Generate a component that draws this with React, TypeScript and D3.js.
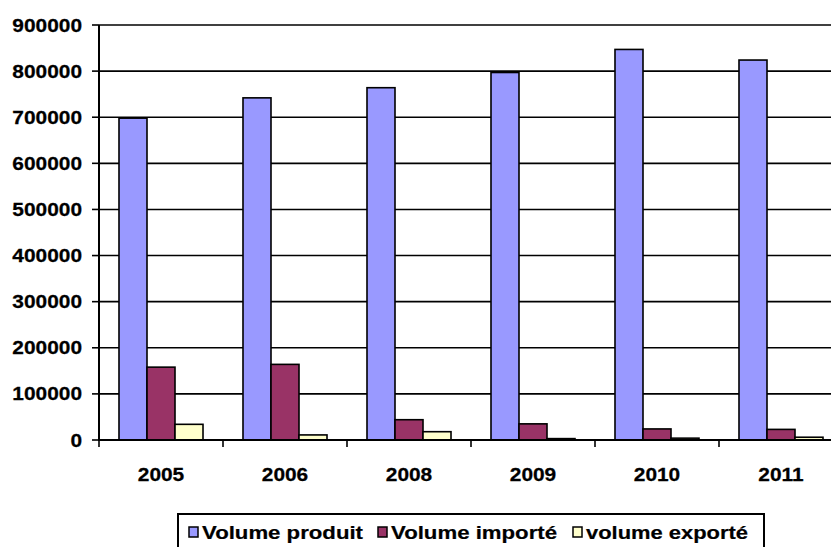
import React from 'react';
import * as d3 from 'd3';

const categories = ['2005', '2006', '2008', '2009', '2010', '2011'];
const seriesNames = ['Volume produit', 'Volume importé', 'volume exporté'];
const volumeProduit = [698000, 742000, 764000, 797000, 847000, 824000];
const volumeImporte = [158000, 164000, 44000, 35000, 24000, 23000];
const volumeExporte = [34000, 11000, 18000, 3000, 4000, 6000];
const yTicks = [0, 100000, 200000, 300000, 400000, 500000, 600000, 700000, 800000, 900000];
const colors = ['#9999FF', '#993366', '#FFFFCC'];

const W = 831;
const H = 547;
const FONT = '"Liberation Sans", Arial, sans-serif';

export default function App() {
  const seriesValues = [volumeProduit, volumeImporte, volumeExporte];
  const x0 = d3.scaleBand<string>().domain(categories).range([99, 843]).paddingInner(0).paddingOuter(0);
  const x1 = d3.scaleBand<string>().domain(seriesNames).range([0, x0.bandwidth()]).paddingInner(0).paddingOuter(0.714);
  const y = d3.scaleLinear().domain([0, 900000]).range([440, 25]);

  const legendX = [189, 378, 573];
  const legendTextLen = [161, 166, 162];

  return (
    <svg width={W} height={H} style={{ position: 'absolute', left: 0, top: 0 }} fontFamily={FONT}>
      <rect x={0} y={0} width={W} height={H} fill="#fff" />
      {/* gridlines */}
      {yTicks.slice(1).map((t) => (
        <line key={'g' + t} x1={99} x2={843} y1={y(t)} y2={y(t)} stroke="#000" strokeWidth={1.6} />
      ))}
      {/* y tick marks and labels */}
      {yTicks.map((t) => (
        <g key={'yt' + t}>
          <line x1={92} x2={99} y1={y(t)} y2={y(t)} stroke="#000" strokeWidth={1.6} />
          <text
            transform={`translate(82,${y(t) + 6.5}) scale(1.16,1)`}
            textAnchor="end"
            fontSize={18}
            fontWeight="bold"
            fill="#000"
            stroke="#000"
            strokeWidth={0.25}
          >
            {t}
          </text>
        </g>
      ))}
      {/* bars */}
      {categories.map((c, i) => (
        <g key={'c' + c} transform={`translate(${x0(c)},0)`}>
          {seriesNames.map((s, j) => {
            const v = seriesValues[j][i];
            return (
              <rect
                key={s}
                x={x1(s)}
                y={y(v)}
                width={x1.bandwidth()}
                height={y(0) - y(v)}
                fill={colors[j]}
                stroke="#000"
                strokeWidth={1.6}
              />
            );
          })}
        </g>
      ))}
      {/* axes */}
      <line x1={99} x2={99} y1={25} y2={441} stroke="#000" strokeWidth={2} />
      <line x1={98} x2={843} y1={440} y2={440} stroke="#000" strokeWidth={2} />
      {categories.map((c) => (
        <line key={'xt' + c} x1={x0(c)} x2={x0(c)} y1={440} y2={447} stroke="#000" strokeWidth={1.6} />
      ))}
      <line x1={843} x2={843} y1={440} y2={447} stroke="#000" strokeWidth={1.6} />
      {categories.map((c) => (
        <text
          key={'xl' + c}
          transform={`translate(${(x0(c) as number) + x0.bandwidth() / 2},481) scale(1.16,1)`}
          textAnchor="middle"
          fontSize={18}
          fontWeight="bold"
          fill="#000"
          stroke="#000"
          strokeWidth={0.25}
        >
          {c}
        </text>
      ))}
      {/* legend */}
      <rect x={178} y={514} width={586} height={45} fill="#fff" stroke="#000" strokeWidth={2} />
      {seriesNames.map((s, j) => (
        <g key={'l' + s}>
          <rect x={legendX[j]} y={527} width={9} height={10} fill={colors[j]} stroke="#000" strokeWidth={1.5} />
          <text
            x={legendX[j] + 13}
            y={538.5}
            fontSize={18}
            fontWeight="bold"
            fill="#000"
            stroke="#000"
            strokeWidth={0.2}
            textLength={legendTextLen[j]}
            lengthAdjust="spacingAndGlyphs"
          >
            {s}
          </text>
        </g>
      ))}
    </svg>
  );
}
